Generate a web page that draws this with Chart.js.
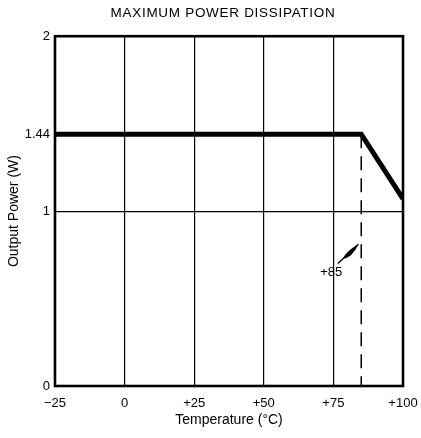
<!DOCTYPE html>
<html>
<head>
<meta charset="utf-8">
<script src="https://cdn.jsdelivr.net/npm/chart.js@4/dist/chart.umd.min.js"></script>
<style>
  html, body { margin: 0; padding: 0; background: #fff; }
  #wrap { width: 421px; height: 438px; position: relative; }
</style>
</head>
<body>
<div id="wrap"><canvas id="c" width="421" height="438"></canvas></div>
<script>
// ---- data ----
const temperatures = [-25, 85, 100];
const outputPower = [1.44, 1.44, 1.07];
const deratingTemp = [85, 85];
const deratingPower = [1.44, 0];
const xTickValues = [-25, 0, 25, 50, 75, 100];
const xTickLabels = ['\u221225', '0', '+25', '+50', '+75', '+100'];
const yTickValues = [0, 1, 1.44, 2];
const yTickLabels = ['0', '1', '1.44', '2'];
const xGridValues = [0, 25, 50, 75];
const yGridValues = [1];
const annotationText = '+85';
const annotationTextAt = [74.2, 0.65];
const annotationArrowFrom = [76.6, 0.70];
const annotationArrowTo = [84.0, 0.81];

const FONT = "'Liberation Sans', Arial, Helvetica, sans-serif";

// widen the title's letter spacing like the original print
const titleSpacingPlugin = {
  id: 'titleSpacing',
  afterLayout(chart) {
    const tb = chart.titleBlock;
    if (tb && !tb._spaced) {
      const orig = tb.draw.bind(tb);
      tb.draw = function () {
        const ctx = chart.ctx;
        ctx.save();
        ctx.letterSpacing = '0.7px';
        ctx.translate(-6, 0);
        orig();
        ctx.restore();
      };
      tb._spaced = true;
    }
  }
};

const framePlugin = {
  id: 'frame',
  afterDatasetsDraw(chart) {
    const { ctx, chartArea: a, scales } = chart;
    ctx.save();
    ctx.strokeStyle = '#000';
    ctx.lineWidth = 2.6;
    ctx.strokeRect(a.left, a.top, a.right - a.left, a.bottom - a.top);

    const x = scales.x, y = scales.y;
    ctx.fillStyle = '#000';
    ctx.font = '13px ' + FONT;
    ctx.textAlign = 'center';
    ctx.textBaseline = 'middle';
    ctx.fillText(annotationText, x.getPixelForValue(annotationTextAt[0]), y.getPixelForValue(annotationTextAt[1]));

    // arrow with leaf-shaped head
    const x0 = x.getPixelForValue(annotationArrowFrom[0]), y0 = y.getPixelForValue(annotationArrowFrom[1]);
    const x1 = x.getPixelForValue(annotationArrowTo[0]), y1 = y.getPixelForValue(annotationArrowTo[1]);
    const dx = x1 - x0, dy = y1 - y0, len = Math.hypot(dx, dy);
    const ux = dx / len, uy = dy / len, nx = -uy, ny = ux;
    ctx.lineWidth = 1.3;
    ctx.beginPath(); ctx.moveTo(x0, y0); ctx.lineTo(x1, y1); ctx.stroke();
    const sx = x0 + ux * len * 0.25, sy = y0 + uy * len * 0.25;
    const mx = x0 + ux * len * 0.5, my = y0 + uy * len * 0.5;
    const w = 3.6;
    ctx.beginPath();
    ctx.moveTo(sx, sy);
    ctx.quadraticCurveTo(mx + nx * w * 1.6, my + ny * w * 1.6, x1, y1);
    ctx.quadraticCurveTo(mx - nx * w * 1.0, my - ny * w * 1.0, sx, sy);
    ctx.fill();
    ctx.restore();
  }
};

new Chart(document.getElementById('c'), {
  type: 'line',
  data: {
    datasets: [
      {
        label: 'Output power',
        data: temperatures.map((t, i) => ({ x: t, y: outputPower[i] })),
        borderColor: '#000',
        borderWidth: 5,
        pointRadius: 0,
        tension: 0,
        fill: false,
        order: 1,
        borderJoinStyle: 'miter',
        borderCapStyle: 'butt'
      },
      {
        label: 'Derating point',
        data: deratingTemp.map((t, i) => ({ x: t, y: deratingPower[i] })),
        borderColor: '#000',
        borderWidth: 1.5,
        borderDash: [14, 8],
        pointRadius: 0,
        fill: false,
        order: 2
      }
    ]
  },
  options: {
    responsive: false,
    animation: false,
    devicePixelRatio: 1,
    layout: { padding: { top: 0, left: 0, right: 18, bottom: 0 } },
    plugins: {
      legend: { display: false },
      tooltip: { enabled: false },
      title: {
        display: true,
        fullSize: false,
        text: 'MAXIMUM POWER DISSIPATION',
        color: '#000',
        font: { family: FONT, size: 13.5, weight: 'normal' },
        padding: { top: 5, bottom: 15 }
      }
    },
    scales: {
      x: {
        type: 'linear',
        min: -25,
        max: 100,
        afterBuildTicks(scale) { scale.ticks = xTickValues.map(v => ({ value: v })); },
        afterFit(scale) { scale.height = 52; scale.paddingLeft = 0; scale.paddingRight = 0; },
        ticks: {
          color: '#000',
          padding: 10,
          maxRotation: 0,
          autoSkip: false,
          font: { family: FONT, size: 13 },
          callback: (v) => xTickLabels[xTickValues.indexOf(v)]
        },
        grid: {
          drawTicks: false,
          lineWidth: 1.2,
          color: (c) => (c.tick && xGridValues.includes(c.tick.value)) ? '#000' : 'rgba(0,0,0,0)'
        },
        border: { display: false },
        title: {
          display: true,
          text: 'Temperature (\u00B0C)',
          color: '#000',
          font: { family: FONT, size: 14 },
          padding: { top: 0, bottom: 9 }
        }
      },
      y: {
        type: 'linear',
        min: 0,
        max: 2,
        afterBuildTicks(scale) { scale.ticks = yTickValues.map(v => ({ value: v })); },
        afterFit(scale) { scale.width = 55; scale.paddingTop = 0; scale.paddingBottom = 0; },
        ticks: {
          color: '#000',
          padding: 5,
          autoSkip: false,
          font: { family: FONT, size: 13 },
          callback: (v) => yTickLabels[yTickValues.indexOf(v)]
        },
        grid: {
          drawTicks: false,
          lineWidth: 1.2,
          color: (c) => (c.tick && yGridValues.includes(c.tick.value)) ? '#000' : 'rgba(0,0,0,0)'
        },
        border: { display: false },
        title: {
          display: true,
          text: 'Output Power (W)',
          color: '#000',
          font: { family: FONT, size: 14 },
          padding: { top: 6, bottom: 0 }
        }
      }
    }
  },
  plugins: [titleSpacingPlugin, framePlugin]
});
</script>
</body>
</html>
